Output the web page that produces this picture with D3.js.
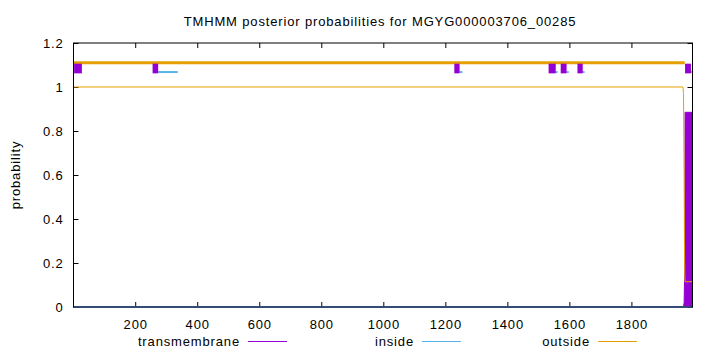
<!DOCTYPE html>
<html>
<head>
<meta charset="utf-8">
<script src="https://cdn.jsdelivr.net/npm/d3@7"></script>
<style>
  body { margin: 0; background: #fff; }
  text { font-family: "Liberation Sans", Arial, sans-serif; fill: #000; letter-spacing: 0.85px; }
</style>
</head>
<body>
<div id="chart"></div>
<script>
// sequence length and axis ticks
const seqLength = 1997;
const xTicks = [200, 400, 600, 800, 1000, 1200, 1400, 1600, 1800];
const yTicks = [0, 0.2, 0.4, 0.6, 0.8, 1, 1.2];

// posterior probability profiles (position, value)
const tmPos = [1, 1968, 1970, 1971, 1972, 1973, 1996, 1997];
const tmVal = [0, 0, 0.02, 0.1, 0.16, 0.885, 0.885, 0.885];
const insidePos = [1, 1997];
const insideVal = [0, 0];
const outsidePos = [1, 1966, 1967, 1968, 1970, 1971, 1972, 1973, 1997];
const outsideVal = [1, 1, 0.99, 0.97, 0.6, 0.3, 0.16, 0.115, 0.115];

// predicted topology tracks at the top (start, end)
const tmSegs = [[3, 28], [256, 274], [1229, 1246], [1533, 1556], [1572, 1591], [1626, 1643], [1973, 1992]];
const insideSegs = [[1, 3], [274, 337], [1246, 1255], [1556, 1562], [1591, 1598], [1643, 1649], [1992, 1997]];
const outsideSegs = [[1, 1972]];

const legendItems = ["transmembrane", "inside", "outside"];

const colTM = "#9400d3", colIn = "#56b4e9", colOut = "#e69f00";

const width = 720, height = 352;
const margin = {top: 43, right: 27.5, bottom: 45, left: 73.5};

const svg = d3.select("#chart").append("svg")
    .attr("width", width)
    .attr("height", height);

const x = d3.scaleLinear()
    .domain([1, seqLength])
    .range([margin.left, width - margin.right]);

const y = d3.scaleLinear()
    .domain([0, 1.2])
    .range([height - margin.bottom, margin.top]);

// title
svg.append("text")
    .attr("x", 380)
    .attr("y", 26)
    .attr("text-anchor", "middle")
    .style("font-size", "13px")
    .text("TMHMM posterior probabilities for MGYG000003706_00285");

// y label
svg.append("text")
    .attr("transform", "translate(20," + y(0.6) + ") rotate(-90)")
    .attr("text-anchor", "middle")
    .style("font-size", "13px")
    .text("probability");

// axes (ticks pointing inwards, mirrored like gnuplot)
const x0 = x.range()[0], x1 = x.range()[1];
const y0 = y.range()[0], y1 = y.range()[1];

const xAxis = svg.append("g")
    .attr("transform", "translate(0," + y0 + ")")
    .call(d3.axisBottom(x).tickValues(xTicks).tickSize(-5).tickPadding(13).tickFormat(d3.format("d")));
const xAxisTop = svg.append("g")
    .attr("transform", "translate(0," + y1 + ")")
    .call(d3.axisTop(x).tickValues(xTicks).tickSize(-5).tickFormat(""));
const yAxis = svg.append("g")
    .attr("transform", "translate(" + x0 + ",0)")
    .call(d3.axisLeft(y).tickValues(yTicks).tickSize(-5).tickPadding(10).tickFormat(d3.format("")));
const yAxisRight = svg.append("g")
    .attr("transform", "translate(" + x1 + ",0)")
    .call(d3.axisRight(y).tickValues(yTicks).tickSize(-5).tickFormat(""));

[xAxis, xAxisTop, yAxis, yAxisRight].forEach(g => {
    g.select(".domain").remove();
    g.selectAll(".tick line").attr("stroke", "#000").attr("stroke-width", 1);
    g.selectAll(".tick text").style("font-size", "13px").style("font-family", "Liberation Sans, Arial, sans-serif");
});

// profile curves
const tmData = tmPos.map((p, i) => ({p: p, v: tmVal[i]}));
const inData = insidePos.map((p, i) => ({p: p, v: insideVal[i]}));
const outData = outsidePos.map((p, i) => ({p: p, v: outsideVal[i]}));

const area = d3.area()
    .x(d => x(d.p))
    .y0(y(0))
    .y1(d => y(d.v));
const line = d3.line()
    .x(d => x(d.p))
    .y(d => y(d.v));

svg.append("path")
    .datum(tmData)
    .attr("fill", colTM)
    .attr("stroke", colTM)
    .attr("stroke-width", 1)
    .attr("d", area);

svg.append("path")
    .datum(inData)
    .attr("fill", "none")
    .attr("stroke", colIn)
    .attr("stroke-width", 1.5)
    .attr("d", line);

svg.append("path")
    .datum(outData)
    .attr("fill", "none")
    .attr("stroke", colOut)
    .attr("stroke-width", 1)
    .attr("d", line);

// topology tracks
svg.selectAll(".out-seg")
    .data(outsideSegs)
    .join("line")
    .attr("class", "out-seg")
    .attr("x1", d => x(d[0]))
    .attr("x2", d => x(d[1]))
    .attr("y1", y(1.11))
    .attr("y2", y(1.11))
    .attr("stroke", colOut)
    .attr("stroke-width", 3);

svg.selectAll(".in-seg")
    .data(insideSegs)
    .join("line")
    .attr("class", "in-seg")
    .attr("x1", d => x(d[0]))
    .attr("x2", d => x(d[1]))
    .attr("y1", y(1.068))
    .attr("y2", y(1.068))
    .attr("stroke", colIn)
    .attr("stroke-width", 2);

svg.selectAll(".tm-seg")
    .data(tmSegs)
    .join("rect")
    .attr("class", "tm-seg")
    .attr("x", d => x(d[0]))
    .attr("width", d => x(d[1]) - x(d[0]))
    .attr("y", y(1.106))
    .attr("height", y(1.062) - y(1.106))
    .attr("fill", colTM);

// frame
svg.append("rect")
    .attr("x", x0)
    .attr("y", y1)
    .attr("width", x1 - x0)
    .attr("height", y0 - y1)
    .attr("fill", "none")
    .attr("stroke", "#000")
    .attr("stroke-width", 1);

// legend
const legendText = [240, 414, 590];
const legendColors = [colTM, colIn, colOut];
const legend = svg.append("g");
legendItems.forEach((name, i) => {
    legend.append("text")
        .attr("x", legendText[i])
        .attr("y", 346)
        .attr("text-anchor", "end")
        .style("font-size", "13px")
        .text(name);
    legend.append("line")
        .attr("x1", legendText[i] + 8)
        .attr("x2", legendText[i] + 47)
        .attr("y1", 341.5)
        .attr("y2", 341.5)
        .attr("stroke", legendColors[i])
        .attr("stroke-width", 1);
});
</script>
</body>
</html>
